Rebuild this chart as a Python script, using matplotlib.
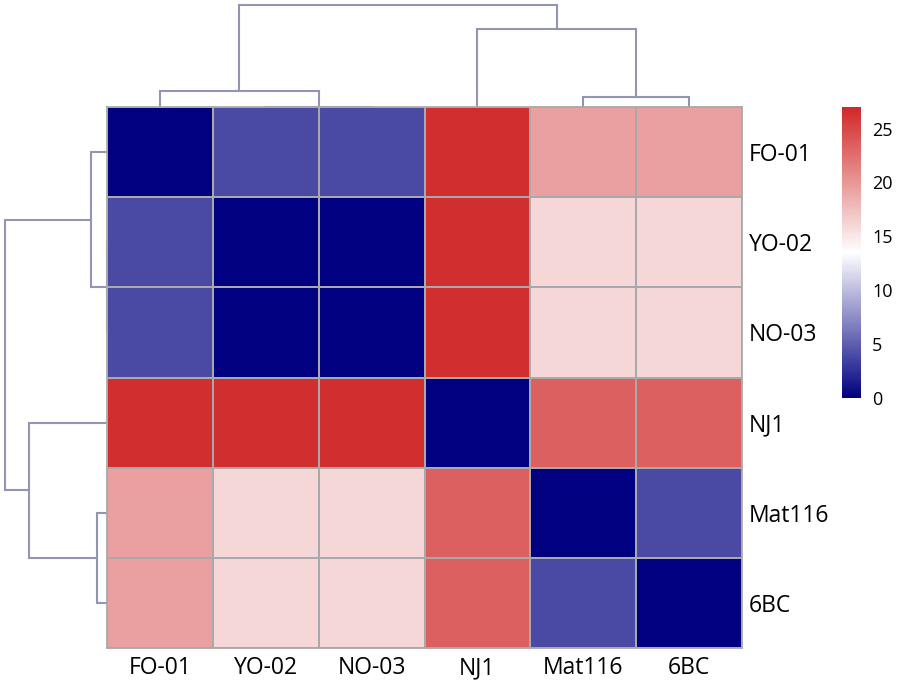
import numpy as np
import matplotlib
matplotlib.use("Agg")
import matplotlib.pyplot as plt
from matplotlib.colors import LinearSegmentedColormap

plt.rcParams['font.family'] = ['Open Sans', 'DejaVu Sans']

labels = ["FO-01", "YO-02", "NO-03", "NJ1", "Mat116", "6BC"]
row_fo01 = [0.0, 4.0, 4.0, 26.5, 19.5, 19.5]
row_yo02 = [4.0, 0.0, 0.0, 26.5, 16.0, 16.0]
row_no03 = [4.0, 0.0, 0.0, 26.5, 16.0, 16.0]
row_nj1 = [26.5, 26.5, 26.5, 0.0, 23.5, 23.5]
row_mat116 = [19.5, 16.0, 16.0, 23.5, 0.0, 4.0]
row_6bc = [19.5, 16.0, 16.0, 23.5, 4.0, 0.0]
values = np.array([row_fo01, row_yo02, row_no03, row_nj1, row_mat116, row_6bc])

# linkage (scipy-style): child_a, child_b, height ; leaves 0..5, new nodes 6..
link_a = [1, 4, 0, 3, 8]
link_b = [2, 5, 6, 7, 9]
link_h = [0.0, 5.0, 8.0, 39.0, 51.0]

vmin, vmax = 0.0, 27.0
cbar_ticks = [0, 5, 10, 15, 20, 25]

cmap = LinearSegmentedColormap.from_list("nwr", ["#000080", "#ffffff", "#d02828"])

W, H = 900, 693
fig = plt.figure(figsize=(W / 100, H / 100), dpi=100)

def frac(x0, y0, x1, y1):
    return [x0 / W, (H - y1) / H, (x1 - x0) / W, (y1 - y0) / H]

ax = fig.add_axes(frac(107, 107, 742, 648))
ax_top = fig.add_axes(frac(107, 5, 742, 107))
ax_left = fig.add_axes(frac(5, 107, 107, 648))
cax = fig.add_axes(frac(842, 107, 861, 398))
ax.set_zorder(3)

n = len(labels)
mesh = ax.pcolormesh(np.arange(n + 1), np.arange(n + 1), values, cmap=cmap,
                     vmin=vmin, vmax=vmax, edgecolors="#a9a9a9", linewidth=1.3)
ax.set_xlim(0, n)
ax.set_ylim(n, 0)
ax.set_xticks(np.arange(n) + 0.5)
ax.set_xticklabels(labels, fontsize=16.5)
ax.yaxis.tick_right()
ax.set_yticks(np.arange(n) + 0.5)
ax.set_yticklabels(labels, fontsize=16.5)
ax.tick_params(length=0, pad=5)
ax.tick_params(axis='x', pad=6)
for s in ax.spines.values():
    s.set_edgecolor("#a9a9a9")
    s.set_linewidth(1.3)

# dendrogram drawing
def dendro_segments():
    pos = {i: i + 0.5 for i in range(n)}
    hgt = {i: 0.0 for i in range(n)}
    segs = []
    for k, (a, b, h) in enumerate(zip(link_a, link_b, link_h)):
        node = n + k
        xa, xb = pos[a], pos[b]
        segs.append(([xa, xa, xb, xb], [hgt[a], h, h, hgt[b]]))
        pos[node] = (xa + xb) / 2
        hgt[node] = h
    return segs

dcol = "#9494b4"
hmax = max(link_h)
for xs, hs in dendro_segments():
    ax_top.plot(xs, hs, color=dcol, lw=1.5, solid_joinstyle='miter', clip_on=False)
    ax_left.plot(hs, xs, color=dcol, lw=1.5, solid_joinstyle='miter', clip_on=False)
ax_top.set_xlim(0, n)
ax_top.set_ylim(0, hmax)
ax_left.set_ylim(n, 0)
ax_left.set_xlim(hmax, 0)
for a in (ax_top, ax_left):
    a.axis("off")

cb = fig.colorbar(mesh, cax=cax, ticks=cbar_ticks)
cb.outline.set_visible(False)
cb.ax.tick_params(length=0, pad=8, labelsize=13)

fig.savefig("out.png", dpi=100)
